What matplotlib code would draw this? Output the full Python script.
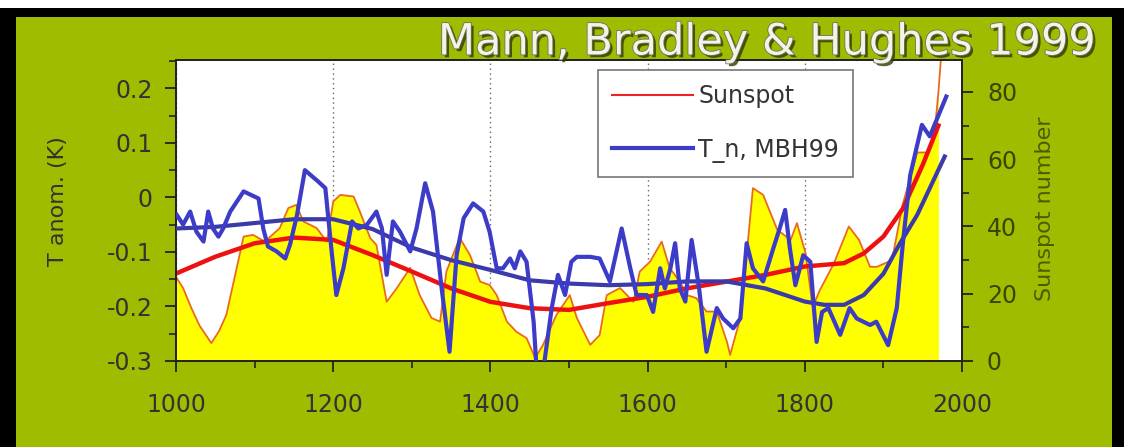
import numpy as np
import matplotlib
matplotlib.use("Agg")
import matplotlib.pyplot as plt
import matplotlib.patheffects as pe
from matplotlib.lines import Line2D
from matplotlib.patches import Rectangle
from matplotlib.ticker import MultipleLocator

# sunspot reconstruction (right axis), thin line with yellow fill
ss_years = [1000, 1009, 1020, 1030, 1045, 1055, 1064, 1079, 1086, 1098, 1113, 1132, 1143, 1153,
            1162, 1179, 1192, 1200, 1209, 1226, 1234, 1247, 1255, 1268, 1281, 1298, 1310, 1325,
            1336, 1344, 1361, 1374, 1387, 1399, 1408, 1421, 1433, 1446, 1457, 1467, 1484, 1501,
            1510, 1527, 1539, 1548, 1565, 1582, 1590, 1603, 1618, 1628, 1641, 1650, 1662, 1675,
            1688, 1701, 1705, 1718, 1726, 1734, 1747, 1765, 1782, 1790, 1801, 1810, 1819, 1837,
            1856, 1869, 1883, 1892, 1911, 1924, 1943, 1958, 1966, 1970, 1978]
ss_vals = [25, 21.7, 15.5, 10.5, 5.3, 9, 13.7, 29.5, 37, 37.5, 35.5, 39.5, 45.5, 46.4,
           41.5, 39.5, 35.5, 47.4, 49.4, 48.9, 44.4, 36.6, 34.5, 17.6, 21.7, 27.7, 19.6, 12.8,
           11.7, 26.6, 36.6, 31.5, 23.6, 22.6, 19.6, 11.7, 8.7, 6.8, 0.9, 4.8, 13.7, 19.6,
           12.8, 4.8, 7.7, 19.6, 21.7, 17.6, 26.6, 29.5, 35.5, 27.7, 23.6, 19.6, 18.7, 14.7,
           14.7, 5.7, 1.8, 12.8, 31.5, 51.4, 49.4, 39, 36, 41, 32, 16, 21, 29,
           40, 36, 28, 28, 30, 46, 62, 62, 70, 80, 105]
fill_end = 1970

# smoothed sunspot (thick red)
ss_smooth_years = [1000, 1050, 1100, 1150, 1200, 1250, 1300, 1350, 1400, 1450, 1500, 1550, 1600,
                   1650, 1700, 1750, 1800, 1850, 1875, 1900, 1925, 1950, 1970]
ss_smooth_vals = [26, 31, 35, 36.7, 36, 31.5, 26.6, 21.6, 17.6, 15.7, 15.2, 17.2, 19.1,
                  21.6, 23.6, 25.6, 28.1, 29.1, 32, 37, 45.4, 58.3, 70]

# MBH99 temperature anomaly (left axis)
t_years = [1001, 1009, 1018, 1026, 1035, 1041, 1047, 1054, 1060, 1069, 1086, 1105, 1111, 1117,
           1128, 1139, 1145, 1154, 1164, 1181, 1190, 1198, 1204, 1213, 1224, 1232, 1243, 1255,
           1262, 1268, 1276, 1285, 1298, 1306, 1317, 1327, 1338, 1348, 1357, 1366, 1378, 1391,
           1399, 1408, 1416, 1425, 1431, 1438, 1446, 1455, 1459, 1467, 1478, 1486, 1495, 1503,
           1510, 1527, 1539, 1552, 1567, 1578, 1586, 1599, 1607, 1616, 1622, 1629, 1635, 1641,
           1648, 1656, 1665, 1675, 1688, 1696, 1709, 1718, 1726, 1734, 1747, 1760, 1768, 1775,
           1781, 1788, 1798, 1807, 1815, 1822, 1830, 1845, 1857, 1866, 1883, 1891, 1906, 1917,
           1925, 1934, 1942, 1949, 1959, 1980]
t_vals = [-0.032, -0.050, -0.026, -0.063, -0.081, -0.026, -0.057, -0.072, -0.057, -0.026, 0.011,
          -0.002, -0.057, -0.090, -0.099, -0.112, -0.087, -0.032, 0.050, 0.029, 0.017, -0.099,
          -0.179, -0.130, -0.044, -0.057, -0.050, -0.026, -0.057, -0.142, -0.044, -0.063,
          -0.099, -0.057, 0.026, -0.026, -0.167, -0.283, -0.106, -0.038, -0.011, -0.026,
          -0.063, -0.130, -0.130, -0.112, -0.130, -0.099, -0.118, -0.228, -0.32, -0.32,
          -0.203, -0.142, -0.179, -0.118, -0.109, -0.109, -0.112, -0.154, -0.057, -0.130,
          -0.179, -0.179, -0.210, -0.130, -0.167, -0.130, -0.084, -0.167, -0.191, -0.078,
          -0.161, -0.283, -0.203, -0.222, -0.240, -0.222, -0.084, -0.130, -0.154, -0.093,
          -0.057, -0.023, -0.093, -0.161, -0.106, -0.118, -0.265, -0.210, -0.203, -0.252,
          -0.203, -0.222, -0.234, -0.228, -0.271, -0.203, -0.081, 0.040, 0.090, 0.133,
          0.112, 0.185]

# smoothed temperature (thick blue)
t_smooth_years = [1000, 1050, 1100, 1150, 1200, 1250, 1300, 1350, 1400, 1450, 1500, 1550, 1600,
                  1650, 1700, 1750, 1800, 1825, 1850, 1875, 1900, 1920, 1943, 1960, 1978]
t_smooth_vals = [-0.057, -0.054, -0.047, -0.040, -0.040, -0.058, -0.092, -0.115, -0.133,
                 -0.152, -0.158, -0.161, -0.159, -0.154, -0.154, -0.167, -0.191, -0.197,
                 -0.197, -0.179, -0.140, -0.087, -0.032, 0.020, 0.075]

green = "#a0bc00"
fig = plt.figure(figsize=(11.24, 4.47), dpi=100, facecolor="white")
fig.patches.append(Rectangle((0, 0), 1, 1 - 8 / 447, transform=fig.transFigure,
                             facecolor="black", edgecolor="none", zorder=-3))
fig.patches.append(Rectangle((16 / 1124, 0), (1112 - 16) / 1124, 1 - 17 / 447,
                             transform=fig.transFigure, facecolor=green, edgecolor="none", zorder=-2))

ax = fig.add_axes([176 / 1124, 1 - 361 / 447, 786 / 1124, 301 / 447])
ax2 = ax.twinx()
ax.set_zorder(ax2.get_zorder() + 1)
ax.patch.set_visible(False)
ax2.patch.set_visible(True)
ax2.patch.set_facecolor("white")

# sunspot side
ss_y = np.array(ss_years)
ss_v = np.array(ss_vals)
m = ss_y <= fill_end
ax2.fill_between(ss_y[m], 0, ss_v[m], color="#ffff00", lw=0, zorder=1)
ax2.plot(ss_years, ss_vals, color="#ea6a1c", lw=1.3, zorder=2)
ax2.plot(ss_smooth_years, ss_smooth_vals, color="#ee1111", lw=3.2, zorder=3)

# dotted vertical grid under the yellow fill
ax2.xaxis.set_visible(True)
ax2.tick_params(axis="x", which="both", bottom=False, top=False,
                labelbottom=False, labeltop=False)
ax2.set_axisbelow(True)
ax2.grid(True, axis="x", which="major", ls=(0, (1, 2.5)), color="#666666", lw=1.0)

# temperature side
ax.plot(t_smooth_years, t_smooth_vals, color="#3a3aa8", lw=3, zorder=3)
ax.plot(t_years, t_vals, color="#3c3cc8", lw=3, zorder=4)

ax.set_xlim(1000, 2000)
ax.set_ylim(-0.3, 0.252)
ax2.set_ylim(0, 89.5)
ax.xaxis.set_major_locator(MultipleLocator(200))
ax.xaxis.set_minor_locator(MultipleLocator(100))
ax.yaxis.set_major_locator(MultipleLocator(0.1))
ax.yaxis.set_minor_locator(MultipleLocator(0.05))
ax2.yaxis.set_major_locator(MultipleLocator(20))
ax2.yaxis.set_minor_locator(MultipleLocator(10))
ax.set_yticks([-0.3, -0.2, -0.1, 0, 0.1, 0.2])
ax.set_yticklabels(["-0.3", "-0.2", "-0.1", "0", "0.1", "0.2"])

for a in (ax, ax2):
    for s in a.spines.values():
        s.set_linewidth(1.3)
        s.set_color("#222222")
ax.tick_params(axis="both", which="major", direction="out", length=8, width=1.3,
               labelsize=17, colors="#222222", labelcolor="#333333")
ax.tick_params(axis="both", which="minor", direction="out", length=5, width=1.2, colors="#222222")
ax.tick_params(axis="x", pad=15)
ax.tick_params(axis="y", pad=9)
ax2.tick_params(axis="y", which="major", direction="out", length=8, width=1.3,
                labelsize=17, colors="#222222", labelcolor="#3a4500", pad=10)
ax2.tick_params(axis="y", which="minor", direction="out", length=5, width=1.2, colors="#222222")

ax.set_ylabel("T anom. (K)", fontsize=16, color="#333333")
ax.yaxis.set_label_coords(-0.137, 0.53)
ax2.set_ylabel("Sunspot number", fontsize=16, color="#4d5c00")
ax2.yaxis.set_label_coords(1.093, 0.505)

handles = [Line2D([], [], color="#ee2222", lw=1.5),
           Line2D([], [], color="#3c3cc8", lw=3)]
leg = ax.legend(handles, ["Sunspot", "T_n, MBH99"], loc="upper left",
                bbox_to_anchor=(0.537, 0.967), borderaxespad=0, fontsize=17, frameon=True,
                fancybox=False, framealpha=1, edgecolor="#777777", handlelength=3.4,
                labelspacing=1.25, borderpad=0.6, handletextpad=0.25)
leg.get_frame().set_linewidth(1.2)
for t in leg.get_texts():
    t.set_color("#333333")

fig.text(0.974, 0.905, "Mann, Bradley & Hughes 1999", ha="right", va="center",
         fontsize=31, color="#f4f4e6",
         path_effects=[pe.withSimplePatchShadow(offset=(2, -2), shadow_rgbFace="#2f3a00", alpha=0.8),
                       pe.withStroke(linewidth=1.2, foreground="#707060")])

fig.savefig("out.png", dpi=100, facecolor=fig.get_facecolor())
